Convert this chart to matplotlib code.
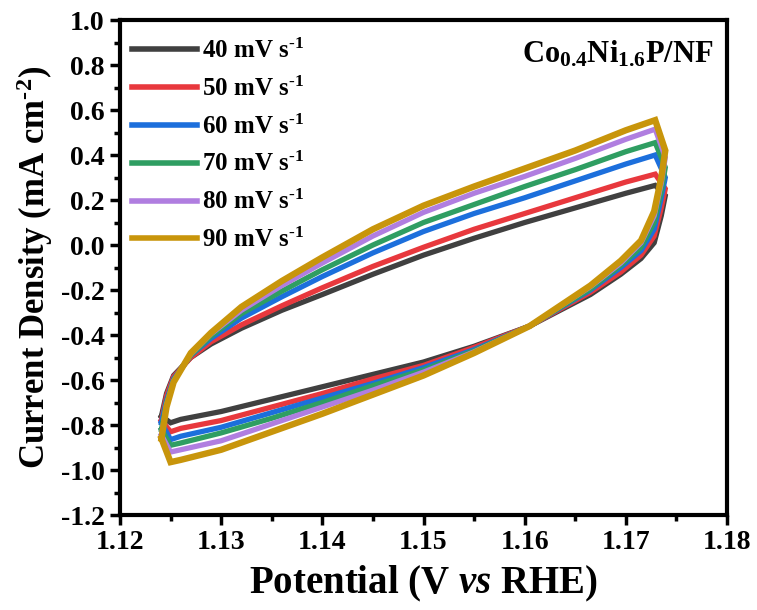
import numpy as np
import matplotlib
matplotlib.use("Agg")
import matplotlib.pyplot as plt
from matplotlib.ticker import MultipleLocator

# -----------------------------------------------------------------------------
# DATA
# -----------------------------------------------------------------------------

# shared potential grid: forward sweep, right vertex, reverse sweep
potential = [1.1241, 1.1246, 1.1253, 1.127, 1.129, 1.132, 1.136, 1.140, 1.145, 1.150,
             1.155, 1.160, 1.165, 1.170, 1.1729,
             1.1739,
             1.1735, 1.1728, 1.1715, 1.1695, 1.1665, 1.1605, 1.155, 1.150, 1.145, 1.140,
             1.135, 1.130, 1.126, 1.125]

current_40 = [-0.76, -0.66, -0.58, -0.50, -0.44, -0.37, -0.29, -0.22, -0.13, -0.045,
              0.03, 0.10, 0.165, 0.23, 0.265,
              0.22,
              0.13, 0.01, -0.06, -0.13, -0.22, -0.36, -0.45, -0.52, -0.575, -0.63,
              -0.685, -0.74, -0.775, -0.79]
current_50 = [-0.78, -0.67, -0.585, -0.50, -0.43, -0.355, -0.27, -0.19, -0.095, -0.01,
              0.07, 0.14, 0.21, 0.28, 0.315,
              0.25,
              0.165, 0.04, -0.045, -0.12, -0.21, -0.36, -0.455, -0.535, -0.595, -0.66,
              -0.72, -0.78, -0.815, -0.83]
current_60 = [-0.79, -0.69, -0.595, -0.49, -0.415, -0.325, -0.23, -0.14, -0.035, 0.06,
              0.14, 0.21, 0.285, 0.36, 0.40,
              0.30,
              0.21, 0.07, -0.025, -0.10, -0.20, -0.36, -0.465, -0.545, -0.615, -0.68,
              -0.745, -0.81, -0.85, -0.865]
current_70 = [-0.82, -0.70, -0.60, -0.49, -0.405, -0.305, -0.205, -0.11, 0.0, 0.10,
              0.18, 0.26, 0.335, 0.415, 0.455,
              0.345,
              0.24, 0.10, -0.01, -0.09, -0.195, -0.36, -0.47, -0.555, -0.625, -0.70,
              -0.77, -0.835, -0.88, -0.89]
current_80 = [-0.845, -0.71, -0.605, -0.485, -0.395, -0.29, -0.18, -0.08, 0.04, 0.145,
              0.23, 0.305, 0.385, 0.47, 0.515,
              0.39,
              0.275, 0.13, 0.01, -0.08, -0.185, -0.36, -0.475, -0.565, -0.645, -0.72,
              -0.795, -0.87, -0.91, -0.92]
current_90 = [-0.86, -0.72, -0.61, -0.48, -0.39, -0.275, -0.16, -0.055, 0.07, 0.175,
              0.26, 0.34, 0.42, 0.51, 0.555,
              0.42,
              0.30, 0.15, 0.02, -0.07, -0.18, -0.36, -0.48, -0.58, -0.665, -0.75,
              -0.83, -0.91, -0.955, -0.965]

scan_labels = ["40", "50", "60", "70", "80", "90"]
x_ticks = [1.12, 1.13, 1.14, 1.15, 1.16, 1.17, 1.18]
y_ticks = [-1.2, -1.0, -0.8, -0.6, -0.4, -0.2, 0.0, 0.2, 0.4, 0.6, 0.8, 1.0]

# -----------------------------------------------------------------------------
# STYLE
# -----------------------------------------------------------------------------

plt.rcParams['font.family'] = ['Liberation Serif', 'DejaVu Serif']
plt.rcParams['font.weight'] = 'bold'
plt.rcParams['mathtext.fontset'] = 'custom'
plt.rcParams['mathtext.rm'] = 'Liberation Serif:bold'
plt.rcParams['mathtext.bf'] = 'Liberation Serif:bold'
plt.rcParams['mathtext.it'] = 'Liberation Serif:italic:bold'
plt.rcParams['axes.unicode_minus'] = False

colors = ["#404040", "#e8383d", "#1c6fdc", "#2f9e62", "#b07ee0", "#c8950b"]
widths = [3.8, 3.8, 3.8, 3.8, 3.8, 4.6]

fig = plt.figure(figsize=(7.57, 6.10), dpi=100)
ax = fig.add_axes([0.1585, 0.1557, 0.8019, 0.8115])

series = [current_40, current_50, current_60, current_70, current_80, current_90]
pot = np.array(potential + potential[:1])
for cur, lab, c, w in zip(series, scan_labels, colors, widths):
    cur = np.array(cur + cur[:1])
    ax.plot(pot, cur, color=c, lw=w, solid_joinstyle='miter',
            label=lab + r" mV s$^{\text{-}1}$")

ax.set_xlim(1.12, 1.18)
ax.set_ylim(-1.2, 1.0)
ax.set_xticks(x_ticks)
ax.set_yticks(y_ticks)
ax.set_xticklabels([f"{v:.2f}" for v in x_ticks])
ax.set_yticklabels([f"{v:.1f}" for v in y_ticks])
ax.xaxis.set_minor_locator(MultipleLocator(0.005))
ax.yaxis.set_minor_locator(MultipleLocator(0.1))
ax.tick_params(which='major', direction='out', length=7, width=2.5, labelsize=20, pad=4)
ax.tick_params(which='minor', direction='out', length=4, width=2.5)
for sp in ax.spines.values():
    sp.set_linewidth(3)

ax.set_xlabel(r"Potential (V $\mathit{vs}$ RHE)", fontsize=28, fontweight='bold', labelpad=6)
ax.set_ylabel(r"Current Density (mA cm$^{\text{-}2}$)", fontsize=25, fontweight='bold', labelpad=4)

leg = ax.legend(loc='upper left', frameon=False, fontsize=18, handlelength=2.6,
                handletextpad=0.2, labelspacing=0.54, borderaxespad=0.35,
                bbox_to_anchor=(-0.011, 1.0))
for h in leg.get_lines():
    h.set_linewidth(4)

ax.text(0.978, 0.93, r"Co$_{\text{0.4}}$Ni$_{\text{1.6}}$P/NF", transform=ax.transAxes,
        ha='right', va='center', fontsize=22, fontweight='bold')

fig.savefig("out.png", dpi=100)
